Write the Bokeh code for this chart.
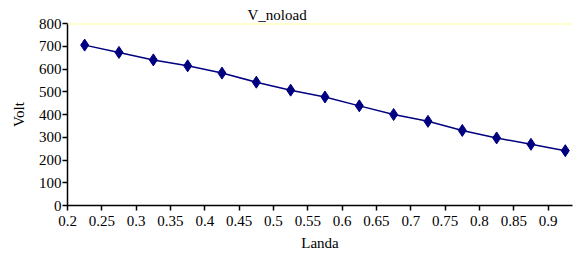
from bokeh.plotting import figure
from bokeh.models import Range1d, FixedTicker, CustomJSTickFormatter, Span, ColumnDataSource
from bokeh.embed import file_html
from bokeh.resources import INLINE

# data
landa = [0.225, 0.275, 0.325, 0.375, 0.425, 0.475, 0.525, 0.575, 0.625, 0.675, 0.725, 0.775, 0.825, 0.875, 0.925]
v_noload = [705, 673, 640, 614, 582, 542, 507, 477, 438, 400, 370, 330, 297, 269, 241]
x_ticks = [0.2, 0.25, 0.3, 0.35, 0.4, 0.45, 0.5, 0.55, 0.6, 0.65, 0.7, 0.75, 0.8, 0.85, 0.9]
y_ticks = [0, 100, 200, 300, 400, 500, 600, 700, 800]
title_text = "V_noload"
x_label = "Landa"
y_label = "Volt"

FONT = "Liberation Serif"

p = figure(width=573, height=253, output_backend="svg", toolbar_location=None,
           x_range=Range1d(0.2, 0.9355), y_range=Range1d(0, 800),
           min_border_left=67, min_border_right=1, min_border_top=23, min_border_bottom=10,
           title=title_text)
p.title.text_font = FONT
p.title.text_font_size = "15px"
p.title.text_font_style = "normal"
p.title.text_color = "black"
p.title.align = "left"
p.title.offset = 180
p.title.standoff = 2
p.outline_line_color = None
p.xgrid.grid_line_color = None
p.ygrid.grid_line_color = None
p.background_fill_color = "white"
p.border_fill_color = "white"

for ax in (p.xaxis[0], p.yaxis[0]):
    ax.axis_line_color = "black"
    ax.axis_line_width = 1.5
    ax.major_tick_line_color = "black"
    ax.major_tick_line_width = 1.5
    ax.major_tick_out = 5
    ax.major_tick_in = 0
    ax.minor_tick_line_color = None
    ax.major_label_text_font = FONT
    ax.major_label_text_font_size = "15px"
    ax.major_label_text_color = "black"
    ax.axis_label_text_font = FONT
    ax.axis_label_text_font_size = "15px"
    ax.axis_label_text_font_style = "normal"
    ax.axis_label_text_color = "black"

p.xaxis.ticker = FixedTicker(ticks=x_ticks)
p.xaxis.formatter = CustomJSTickFormatter(code="return tick.toFixed(2).replace(/0$/, '');")
p.xaxis.major_label_standoff = 5
p.xaxis.axis_label = x_label
p.xaxis.axis_label_standoff = 6

p.yaxis.ticker = FixedTicker(ticks=y_ticks)
p.yaxis.major_label_standoff = 1
p.yaxis.axis_label = y_label
p.yaxis.axis_label_standoff = 9

p.add_layout(Span(location=799, dimension="width", line_color="#FFFF99", line_width=1.5))

src = ColumnDataSource(dict(x=landa, y=v_noload))
p.line("x", "y", source=src, line_color="#000080", line_width=1.5)
p.scatter("x", "y", source=src, marker="diamond", size=12, fill_color="#000080", line_color="#000080")

open("out.html", "w").write(file_html(p, INLINE))
